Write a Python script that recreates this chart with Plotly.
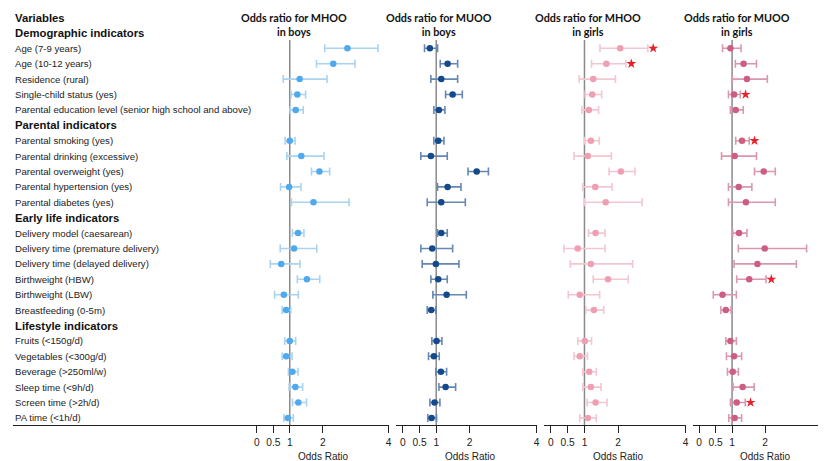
import plotly.graph_objects as go

W, H = 826, 461
OFF = 8  # page body margin compensation

row_labels = [
    "Variables", "Demographic indicators",
    "Age (7-9 years)", "Age (10-12 years)", "Residence (rural)", "Single-child status (yes)",
    "Parental education level (senior high school and above)",
    "Parental indicators",
    "Parental smoking (yes)", "Parental drinking (excessive)", "Parental overweight (yes)",
    "Parental hypertension (yes)", "Parental diabetes (yes)",
    "Early life indicators",
    "Delivery model (caesarean)", "Delivery time (premature delivery)", "Delivery time (delayed delivery)",
    "Birthweight (HBW)", "Birthweight (LBW)", "Breastfeeding (0-5m)",
    "Lifestyle indicators",
    "Fruits (<150g/d)", "Vegetables (<300g/d)", "Beverage (>250ml/w)", "Sleep time (<9h/d)",
    "Screen time (>2h/d)", "PA time (<1h/d)",
]
header_rows = ["Variables", "Demographic indicators", "Parental indicators",
               "Early life indicators", "Lifestyle indicators"]
data_labels = [r for r in row_labels if r not in header_rows]

panel_titles = ["Odds ratio for MHOO<br>in boys", "Odds ratio for MUOO<br>in boys",
                "Odds ratio for MHOO<br>in girls", "Odds ratio for MUOO<br>in girls"]

# MHOO boys
or1 = [2.75, 2.32, 1.30, 1.23, 1.18, 1.00, 1.35, 1.90, 0.98, 1.72, 1.25, 1.13, 0.74, 1.52, 0.82, 0.89,
       1.00, 0.89, 1.08, 1.17, 1.26, 0.94]
lo1 = [2.06, 1.81, 0.80, 1.04, 1.01, 0.86, 0.91, 1.66, 0.72, 1.05, 1.08, 0.71, 0.41, 1.23, 0.54, 0.77,
       0.85, 0.77, 0.96, 0.98, 1.08, 0.82]
hi1 = [3.68, 2.98, 2.13, 1.48, 1.41, 1.16, 2.04, 2.21, 1.34, 2.80, 1.43, 1.82, 1.31, 1.91, 1.26, 1.03,
       1.18, 1.07, 1.25, 1.39, 1.51, 1.11]
sig1 = [0] * 22
# MUOO boys
or2 = [0.81, 1.34, 1.15, 1.49, 1.08, 1.06, 0.84, 2.21, 1.34, 1.15, 1.15, 0.88, 0.99, 1.06, 1.31, 0.85,
       1.01, 0.93, 1.14, 1.28, 0.95, 0.86]
lo2 = [0.65, 1.12, 0.84, 1.28, 0.93, 0.93, 0.54, 1.95, 1.04, 0.73, 1.04, 0.54, 0.58, 0.84, 0.90, 0.73,
       0.87, 0.77, 0.99, 1.08, 0.81, 0.75]
hi2 = [1.04, 1.64, 1.64, 1.78, 1.26, 1.23, 1.33, 2.56, 1.74, 1.87, 1.33, 1.49, 1.68, 1.33, 1.90, 0.99,
       1.17, 1.09, 1.31, 1.58, 1.11, 1.01]
sig2 = [0] * 22
# MHOO girls
or3 = [2.06, 1.65, 1.26, 1.23, 1.13, 1.19, 1.10, 2.08, 1.32, 1.63, 1.33, 0.80, 1.19, 1.70, 0.86, 1.28,
       1.01, 0.86, 1.14, 1.19, 1.33, 1.10]
lo3 = [1.46, 1.21, 0.84, 1.02, 0.92, 1.01, 0.69, 1.73, 0.95, 1.00, 1.12, 0.39, 0.58, 1.26, 0.52, 1.04,
       0.80, 0.69, 0.95, 0.95, 1.08, 0.86]
hi3 = [2.88, 2.23, 1.92, 1.51, 1.42, 1.44, 1.80, 2.50, 1.82, 2.71, 1.61, 1.61, 2.43, 2.30, 1.45, 1.57,
       1.21, 1.09, 1.35, 1.49, 1.67, 1.35]
sig3 = [1, 1, 0, 0, 0, 0, 0, 0, 0, 0, 0, 0, 0, 0, 0, 0, 0, 0, 0, 0, 0, 0]
# MUOO girls
or4 = [0.95, 1.35, 1.45, 1.06, 1.11, 1.30, 1.08, 1.96, 1.20, 1.42, 1.21, 1.99, 1.77, 1.52, 0.71, 0.81,
       0.95, 1.06, 1.02, 1.32, 1.14, 1.08]
lo4 = [0.71, 1.10, 1.01, 0.89, 0.95, 1.11, 0.68, 1.68, 0.89, 0.89, 1.02, 1.19, 1.06, 1.14, 0.43, 0.66,
       0.81, 0.83, 0.86, 1.03, 0.95, 0.90]
hi4 = [1.27, 1.74, 2.07, 1.25, 1.34, 1.52, 1.74, 2.31, 1.60, 2.31, 1.45, 3.26, 2.95, 2.03, 1.13, 0.97,
       1.13, 1.29, 1.19, 1.67, 1.40, 1.29]
sig4 = [0, 0, 0, 1, 0, 1, 0, 0, 0, 0, 0, 0, 0, 1, 0, 0, 0, 0, 0, 0, 1, 0]

tick_vals = [0, 0.5, 1, 2, 4]
tick_text = ["0", "0.5", "1", "2", "4"]

panels = [
    dict(o=or1, l=lo1, h=hi1, s=sig1, mc="#4ea9ef", ec="#a9d3f1", dom=(13, 390), rng=[-7.4, 4.0], tx=295),
    dict(o=or2, l=lo2, h=hi2, s=sig2, mc="#144a8c", ec="#6487b3", dom=(397.5, 538.5), rng=[-0.2, 4.0], tx=441),
    dict(o=or3, l=lo3, h=hi3, s=sig3, mc="#f09fb3", ec="#f3c6d1", dom=(546, 688), rng=[-0.2, 4.0], tx=590),
    dict(o=or4, l=lo4, h=hi4, s=sig4, mc="#cd5e82", ec="#da98ae", dom=(695, 834), rng=[-0.2, 4.0], tx=740),
]


def px(x):
    return (x - OFF) / W


def py(y):
    return (H - (y - OFF)) / H


y_of = {lab: i for i, lab in enumerate(row_labels)}
ys = [y_of[lab] for lab in data_labels]

fig = go.Figure()
layout = dict(width=W, height=H, margin=dict(l=0, r=0, t=0, b=0),
              plot_bgcolor="white", paper_bgcolor="white", showlegend=False,
              font=dict(family="Liberation Sans, Arial", color="#222"))

ybot = 425
row0, rowstep = 17.5, 15.4
layout["yaxis"] = dict(domain=[py(ybot), 1],
                       range=[(ybot - row0) / rowstep, (OFF - row0) / rowstep],
                       visible=False, fixedrange=True)

shapes, annotations = [], []
for k, p in enumerate(panels):
    ax = "x" if k == 0 else f"x{k+1}"
    axname = "xaxis" if k == 0 else f"xaxis{k+1}"
    layout[axname] = dict(domain=[px(p["dom"][0]), min(px(p["dom"][1]), 1.0)], range=p["rng"],
                          anchor="y", showgrid=False, zeroline=False, showline=True,
                          linecolor="#222", linewidth=1.3, ticks="outside", ticklen=7,
                          tickwidth=1, tickcolor="#222", tickvals=tick_vals, ticktext=tick_text,
                          tickfont=dict(size=10.2, color="#222"), ticklabelstandoff=1)
    fig.add_trace(go.Scatter(
        x=p["o"], y=ys, xaxis=ax, yaxis="y", mode="markers",
        marker=dict(color=p["mc"], size=6.5),
        error_x=dict(type="data", symmetric=False,
                     array=[h - o for h, o in zip(p["h"], p["o"])],
                     arrayminus=[o - l for o, l in zip(p["o"], p["l"])],
                     color=p["ec"], thickness=1.6, width=4),
        cliponaxis=False, hoverinfo="skip"))
    sx = [h + 0.16 for h, s in zip(p["h"], p["s"]) if s]
    sy = [y for y, s in zip(ys, p["s"]) if s]
    if sx:
        fig.add_trace(go.Scatter(x=sx, y=sy, xaxis=ax, yaxis="y", mode="markers",
                                 marker=dict(symbol="star", color="#e8202a", size=7.5),
                                 cliponaxis=False, hoverinfo="skip"))
    shapes.append(dict(type="line", xref=ax, yref="paper", x0=1, x1=1,
                       y0=py(ybot), y1=py(40),
                       line=dict(color="#8a8a8a", width=1.5), layer="below"))
    annotations.append(dict(text="<b>" + panel_titles[k].replace("<br>", "</b><br><b>") + "</b>",
                            xref="paper", yref="paper",
                            x=px(p["tx"]), y=py(24.5), xanchor="center", yanchor="middle",
                            showarrow=False, align="center",
                            font=dict(family="Lato, Carlito, sans-serif", size=10.8, color="#111")))
    annotations.append(dict(text="Odds Ratio", xref=ax, yref="paper", x=2, y=py(456),
                            xanchor="center", yanchor="middle", showarrow=False,
                            font=dict(size=10, color="#222")))

for lab in row_labels:
    bold = lab in header_rows
    annotations.append(dict(text=f"<b>{lab}</b>" if bold else lab, xref="paper", yref="y",
                            x=px(13), y=y_of[lab], xanchor="left", yanchor="middle",
                            showarrow=False,
                            font=dict(size=11.3 if bold else 9.6, color="#111" if bold else "#222")))

layout["shapes"] = shapes
layout["annotations"] = annotations
fig.update_layout(**layout)
fig.write_html("out.html")
